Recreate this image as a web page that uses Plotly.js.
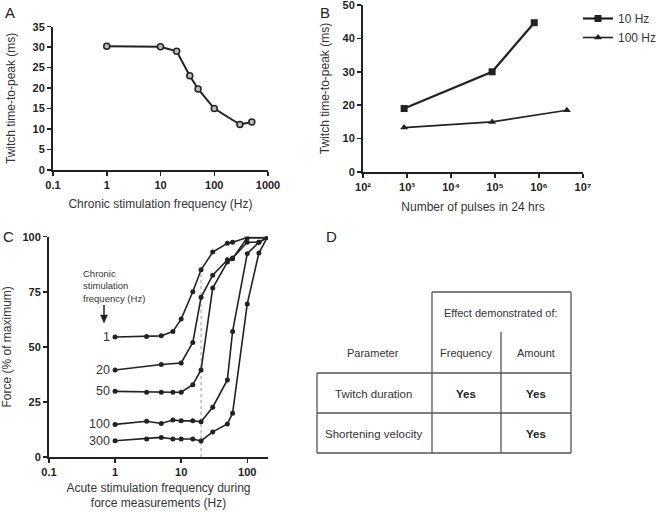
<!DOCTYPE html>
<html>
<head>
<meta charset="utf-8">
<script src="https://cdn.plot.ly/plotly-3.0.1.min.js"></script>
<style>html,body{margin:0;padding:0;background:#fff;}#chart{width:659px;height:512px;}</style>
</head>
<body>
<div id="chart"></div>
<script>
// ---------- DATA ----------
// Panel A
const aFreq = [1, 10, 20, 35, 50, 100, 300, 500];
const aTtp = [30.2, 30.1, 29.0, 23.0, 19.8, 15.0, 11.1, 11.7];
// Panel B
const bPulses10 = [860, 86000, 780000];
const bTtp10 = [19.0, 30.0, 44.7];
const bPulses100 = [860, 86000, 4300000];
const bTtp100 = [13.3, 15.0, 18.5];
const bTickVals = [1e2, 1e3, 1e4, 1e5, 1e6, 1e7];
const bTickText = ['10²', '10³', '10⁴', '10⁵', '10⁶', '10⁷'];
// Panel C
const cLabels = ['1', '20', '50', '100', '300'];
const cF1 = [1, 3, 5, 7.5, 10, 15, 20, 30, 50, 60, 100, 200];
const cV1 = [54.5, 54.7, 55.0, 57.0, 62.6, 75.0, 85.0, 93.0, 97.0, 97.5, 99.6, 99.6];
const cF20 = [1, 5, 10, 15, 20, 30, 50, 60, 100, 150, 200];
const cV20 = [39.5, 42.0, 42.7, 52.0, 72.5, 82.5, 89.5, 90.3, 97.5, 97.5, 99.6];
const cF50 = [1, 3, 5, 7.5, 10, 15, 20, 30, 50, 60, 100, 200];
const cV50 = [29.8, 29.4, 29.4, 29.4, 29.4, 32.8, 39.5, 76.7, 88.5, 90.0, 99.6, 99.6];
const cF100 = [1, 3, 5, 7.5, 10, 15, 20, 30, 50, 60, 100, 150, 200];
const cV100 = [14.8, 16.2, 15.2, 16.8, 16.4, 16.4, 16.0, 22.6, 35.0, 57.0, 92.3, 97.5, 99.6];
const cF300 = [1, 3, 5, 7.5, 10, 15, 20, 30, 50, 60, 100, 150, 200];
const cV300 = [7.4, 8.2, 8.9, 8.2, 8.2, 8.2, 7.3, 11.4, 15.0, 19.9, 69.5, 92.6, 99.6];
const cRefFreq = 20; // dotted reference line
// Panel D (table)
const dGroupHeader = 'Effect demonstrated of:';
const dHeader = ['Parameter', 'Frequency', 'Amount'];
const dRows = [
  ['Twitch duration', 'Yes', 'Yes'],
  ['Shortening velocity', '', 'Yes']
];

// ---------- STYLE / LAYOUT HELPERS ----------
const W = 659, H = 512;
const PX = p => p / W;
const PY = p => 1 - p / H;
const FONT = 'Liberation Sans, Arial, Helvetica, sans-serif';
const INK = '#222';
const TXT = '#333';

function axisBase(extra) {
  return Object.assign({
    showline: true, linecolor: INK, linewidth: 2,
    ticks: 'outside', ticklen: 4, tickwidth: 1.5, tickcolor: INK,
    showgrid: false, zeroline: false, mirror: false,
    tickfont: {family: FONT, size: 11, color: INK, weight: 'bold'},
    ticklabeloverflow: 'allow',
    fixedrange: true
  }, extra);
}
function titleObj(text, standoff) {
  return {text: text, font: {family: FONT, size: 12, color: TXT}, standoff: standoff};
}

const traces = [];
// A
traces.push({
  x: aFreq, y: aTtp, xaxis: 'x', yaxis: 'y', mode: 'lines+markers', showlegend: false,
  line: {color: INK, width: 2},
  marker: {symbol: 'circle', size: 6, color: '#bbb', line: {color: INK, width: 1.5}}
});
// B
traces.push({
  x: bPulses10, y: bTtp10, xaxis: 'x2', yaxis: 'y2', mode: 'lines+markers', name: '10 Hz',
  line: {color: INK, width: 2.2},
  marker: {symbol: 'square', size: 7, color: INK}
});
traces.push({
  x: bPulses100, y: bTtp100, xaxis: 'x2', yaxis: 'y2', mode: 'lines+markers', name: '100 Hz',
  line: {color: INK, width: 1.6},
  marker: {symbol: 'triangle-up', size: 7, color: INK}
});
// C
const cSeries = [[cF1, cV1], [cF20, cV20], [cF50, cV50], [cF100, cV100], [cF300, cV300]];
cSeries.forEach(s => {
  traces.push({
    x: s[0], y: s[1], xaxis: 'x3', yaxis: 'y3', mode: 'lines+markers', showlegend: false,
    line: {color: INK, width: 1.6},
    marker: {symbol: 'circle', size: 5, color: INK}
  });
});

const annotations = [];
const letter = (t, x, y) => annotations.push({
  text: t, xref: 'paper', yref: 'paper', x: PX(x), y: PY(y), showarrow: false,
  xanchor: 'center', yanchor: 'middle', font: {family: FONT, size: 15, color: INK}
});
letter('A', 10, 12);
letter('B', 325, 12);
letter('C', 8, 236);
letter('D', 331, 236);

// C curve labels, anchored at each curve's first point
cSeries.forEach((s, i) => {
  annotations.push({
    text: cLabels[i], xref: 'x3', yref: 'y3', x: Math.log10(s[0][0]), y: s[1][0],
    xanchor: 'right', yanchor: 'middle', xshift: -3, showarrow: false,
    font: {family: FONT, size: 12.5, color: TXT}
  });
});
annotations.push({
  text: 'Chronic<br>stimulation<br>frequency (Hz)', xref: 'paper', yref: 'paper',
  x: PX(81), y: PY(266), xanchor: 'left', yanchor: 'top', align: 'left', showarrow: false,
  font: {family: FONT, size: 9.5, color: TXT}
});

// D table text
const colX = [373, 466, 536];
const rowY = [353, 394, 434];
const tFont = {family: FONT, size: 11, color: TXT};
annotations.push({text: dGroupHeader, xref: 'paper', yref: 'paper', x: PX(501), y: PY(313),
  showarrow: false, xanchor: 'center', yanchor: 'middle', font: tFont});
dHeader.forEach((t, i) => annotations.push({text: t, xref: 'paper', yref: 'paper', x: PX(colX[i]), y: PY(rowY[0]),
  showarrow: false, xanchor: 'center', yanchor: 'middle', font: tFont}));
dRows.forEach((r, j) => r.forEach((t, i) => {
  if (!t) return;
  annotations.push({text: t, xref: 'paper', yref: 'paper',
    x: PX(colX[i]), y: PY(rowY[j + 1]), showarrow: false, xanchor: 'center', yanchor: 'middle',
    font: {family: FONT, size: 11.5, color: i === 0 ? TXT : INK, weight: i === 0 ? 'normal' : 'bold'}});
}));

const shapes = [];
const tl = (x0, y0, x1, y1) => shapes.push({type: 'line', xref: 'paper', yref: 'paper',
  x0: PX(x0), y0: PY(y0), x1: PX(x1), y1: PY(y1), line: {color: '#555', width: 1.3}});
// table grid
tl(432, 292, 571, 292);
tl(317, 373, 571, 373);
tl(317, 413, 571, 413);
tl(317, 453, 571, 453);
tl(317, 373, 317, 453);
tl(432, 292, 432, 453);
tl(501, 332, 501, 453);
tl(571, 292, 571, 453);
// arrow in panel C: shaft + head
shapes.push({type: 'line', xref: 'paper', yref: 'paper', x0: PX(104), x1: PX(104), y0: PY(305), y1: PY(318),
  line: {color: INK, width: 1.5}});
shapes.push({type: 'path', xref: 'paper', yref: 'paper',
  path: 'M ' + PX(100.5) + ' ' + PY(315) + ' L ' + PX(107.5) + ' ' + PY(315) + ' L ' + PX(104) + ' ' + PY(323) + ' Z',
  fillcolor: INK, line: {color: INK, width: 0.5}});
// C dotted line at reference frequency up to curve 1
shapes.push({type: 'line', xref: 'x3', yref: 'y3', x0: cRefFreq, x1: cRefFreq, y0: 0,
  y1: cV1[cF1.indexOf(cRefFreq)], line: {color: '#999', width: 1, dash: 'dot'}, layer: 'below'});

const layout = {
  width: W, height: H, margin: {l: 0, r: 0, t: 0, b: 0, autoexpand: false},
  paper_bgcolor: '#fff', plot_bgcolor: 'rgba(0,0,0,0)',
  font: {family: FONT, color: TXT},
  showlegend: true,
  legend: {x: PX(578), y: PY(4), xanchor: 'left', yanchor: 'top', bgcolor: 'rgba(0,0,0,0)',
    font: {family: FONT, size: 12, color: TXT}, tracegroupgap: 0},
  xaxis: axisBase({type: 'log', range: [-1, 3], domain: [PX(53), PX(268)], anchor: 'y',
    tickvals: [0.1, 1, 10, 100, 1000], ticktext: ['0.1', '1', '10', '100', '1000'],
    title: titleObj('Chronic stimulation frequency (Hz)', 9)}),
  yaxis: axisBase({range: [0, 35], domain: [PY(170), PY(26.7)], anchor: 'x',
    tickvals: [0, 5, 10, 15, 20, 25, 30, 35],
    title: titleObj('Twitch time-to-peak (ms)', 14)}),
  xaxis2: axisBase({type: 'log', range: [2, 7], domain: [PX(363), PX(583)], anchor: 'y2',
    tickvals: bTickVals, ticktext: bTickText,
    title: titleObj('Number of pulses in 24 hrs', 10)}),
  yaxis2: axisBase({range: [0, 50], domain: [PY(172), PY(5)], anchor: 'x2',
    tickvals: [0, 10, 20, 30, 40, 50],
    title: titleObj('Twitch time-to-peak (ms)', 10)}),
  xaxis3: axisBase({type: 'log', range: [-1, 2.314], domain: [PX(49), PX(268)], anchor: 'y3',
    tickvals: [0.1, 1, 10, 100], ticktext: ['0.1', '1', '10', '100'],
    title: titleObj('Acute stimulation frequency during<br>force measurements (Hz)', 6)}),
  yaxis3: axisBase({range: [0, 100], domain: [PY(457), PY(236.7)], anchor: 'x3',
    tickvals: [0, 25, 50, 75, 100],
    title: titleObj('Force (% of maximum)', 8)}),
  annotations: annotations,
  shapes: shapes
};

Plotly.newPlot('chart', traces, layout, {staticPlot: true, displayModeBar: false});
</script>
</body>
</html>
